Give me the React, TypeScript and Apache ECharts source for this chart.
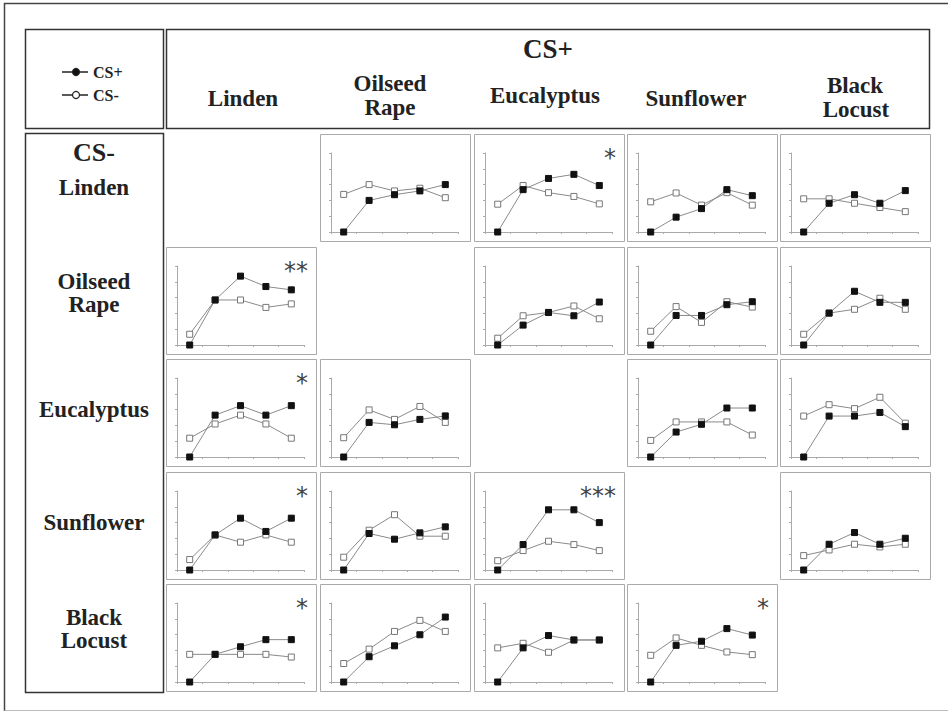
import React, { useEffect, useRef } from "react";
import * as echarts from "echarts";

// ---- Data ----
const trials = ["1", "2", "3", "4", "5"];
const csPlusOdours = ["Linden", "Oilseed Rape", "Eucalyptus", "Sunflower", "Black Locust"];
const csMinusOdours = ["Linden", "Oilseed Rape", "Eucalyptus", "Sunflower", "Black Locust"];

// each row = CS- odour; index within row = CS+ odour (column); null = diagonal
const lindenRowPlus = [null, [0, 2.0, 2.36, 2.6, 3.0], [0, 2.68, 3.39, 3.65, 2.94], [0, 0.94, 1.48, 2.68, 2.3], [0, 1.82, 2.36, 1.82, 2.62]];
const lindenRowMinus = [null, [2.38, 3.0, 2.6, 2.77, 2.17], [1.76, 2.94, 2.49, 2.25, 1.78], [1.91, 2.47, 1.7, 2.49, 1.7], [2.1, 2.1, 1.82, 1.55, 1.29]];
const oilseedRowPlus = [[0, 2.85, 4.36, 3.7, 3.49], null, [0, 1.26, 2.06, 1.85, 2.72], [0, 1.87, 1.87, 2.55, 2.74], [0, 2.02, 3.4, 2.7, 2.7]];
const oilseedRowMinus = [[0.68, 2.85, 2.85, 2.38, 2.6], null, [0.43, 1.85, 2.06, 2.47, 1.66], [0.87, 2.43, 1.43, 2.74, 2.4], [0.68, 2.02, 2.26, 2.96, 2.26]];
const eucalyptusRowPlus = [[0, 2.65, 3.25, 2.65, 3.25], [0, 2.19, 2.04, 2.38, 2.6], null, [0, 1.58, 2.07, 3.1, 3.1], [0, 2.59, 2.59, 2.82, 1.92]];
const eucalyptusRowMinus = [[1.19, 2.09, 2.65, 2.09, 1.19], [1.22, 2.98, 2.38, 3.2, 2.19], null, [1.05, 2.22, 2.22, 2.22, 1.39], [2.59, 3.31, 3.06, 3.78, 2.14]];
const sunflowerRowPlus = [[0, 2.22, 3.28, 2.44, 3.28], [0, 2.31, 1.95, 2.35, 2.73], [0, 1.61, 3.81, 3.81, 3.0], null, [0, 1.63, 2.37, 1.63, 2.01]];
const sunflowerRowMinus = [[0.66, 2.22, 1.76, 2.22, 1.76], [0.81, 2.52, 3.5, 2.14, 2.14], [0.59, 1.23, 1.82, 1.61, 1.23], null, [0.91, 1.27, 1.63, 1.46, 1.63]];
const blackLocustRowPlus = [[0, 1.75, 2.23, 2.68, 2.68], [0, 1.6, 2.29, 2.99, 4.11], [0, 2.16, 2.94, 2.66, 2.66], [0, 2.32, 2.58, 3.38, 2.97], null];
const blackLocustRowMinus = [[1.75, 1.75, 1.75, 1.75, 1.58], [1.17, 2.08, 3.2, 3.9, 3.2], [2.16, 2.45, 1.88, 2.66, 2.66], [1.69, 2.79, 2.32, 1.9, 1.73], null];

const lindenRowStars = ["", "", "*", "", ""];
const oilseedRowStars = ["**", "", "", "", ""];
const eucalyptusRowStars = ["*", "", "", "", ""];
const sunflowerRowStars = ["*", "", "***", "", ""];
const blackLocustRowStars = ["*", "", "", "*", ""];

const rowsPlus = [lindenRowPlus, oilseedRowPlus, eucalyptusRowPlus, sunflowerRowPlus, blackLocustRowPlus];
const rowsMinus = [lindenRowMinus, oilseedRowMinus, eucalyptusRowMinus, sunflowerRowMinus, blackLocustRowMinus];
const rowsStars = [lindenRowStars, oilseedRowStars, eucalyptusRowStars, sunflowerRowStars, blackLocustRowStars];

// ---- Layout ----
const colX = [166, 320, 474, 627, 780];
const rowY = [134, 247, 359, 472, 584];
const cellW = 150;
const cellH = 107;
const SERIF = "'Liberation Serif', 'Times New Roman', serif";

export default function App() {
  const ref = useRef<HTMLDivElement>(null);

  useEffect(() => {
    if (!ref.current) return;
    const chart = echarts.init(ref.current, undefined, { renderer: "svg" });

    const grids: any[] = [];
    const xAxes: any[] = [];
    const yAxes: any[] = [];
    const series: any[] = [];
    const graphics: any[] = [];

    // outer frame
    graphics.push({
      type: "polyline",
      shape: { points: [[4.5, 711], [4.5, 3.5], [948, 3.5]] },
      style: { stroke: "#444", lineWidth: 1.5, fill: "none" },
    });
    graphics.push({
      type: "line",
      shape: { x1: 4.5, y1: 710.5, x2: 948, y2: 710.5 },
      style: { stroke: "#bbb", lineWidth: 1 },
    });
    // header boxes
    const box = (x: number, y: number, w: number, h: number) => ({
      type: "rect",
      shape: { x: x + 0.5, y: y + 0.5, width: w, height: h },
      style: { fill: "none", stroke: "#333", lineWidth: 1.5 },
    });
    graphics.push(box(25, 29, 138, 99));
    graphics.push(box(166, 29, 763, 99));
    graphics.push(box(25, 133, 138, 559));

    // legend
    const legendItems = [
      { name: "CS+", y: 72, fill: "#111" },
      { name: "CS-", y: 95, fill: "#fff" },
    ];
    legendItems.forEach((it) => {
      graphics.push({ type: "line", shape: { x1: 62, y1: it.y, x2: 88, y2: it.y }, style: { stroke: "#222", lineWidth: 1.5 } });
      graphics.push({ type: "circle", shape: { cx: 76, cy: it.y, r: 3.5 }, style: { fill: it.fill, stroke: "#222", lineWidth: 1.2 } });
      graphics.push({
        type: "text",
        x: 93,
        y: it.y,
        style: { text: it.name, font: `bold 16px ${SERIF}`, fill: "#222", verticalAlign: "middle", align: "left" },
      });
    });

    const txt = (t: string, x: number, y: number, size: number) => ({
      type: "text",
      x,
      y,
      style: { text: t, font: `bold ${size}px ${SERIF}`, fill: "#222", align: "center", verticalAlign: "middle" },
    });
    // column header
    graphics.push(txt("CS+", 548, 49, 27));
    graphics.push(txt("Linden", 243, 98, 23));
    graphics.push(txt("Oilseed", 390, 83, 23));
    graphics.push(txt("Rape", 390, 107, 23));
    graphics.push(txt("Eucalyptus", 545, 95, 23));
    graphics.push(txt("Sunflower", 696, 98, 23));
    graphics.push(txt("Black", 855, 85, 23));
    graphics.push(txt("Locust", 856, 109, 23));
    // row header
    graphics.push(txt("CS-", 94, 152, 26));
    graphics.push(txt("Linden", 94, 187, 23));
    graphics.push(txt("Oilseed", 94, 281, 23));
    graphics.push(txt("Rape", 94, 304, 23));
    graphics.push(txt("Eucalyptus", 94, 409, 23));
    graphics.push(txt("Sunflower", 94, 522, 23));
    graphics.push(txt("Black", 94, 617, 23));
    graphics.push(txt("Locust", 94, 640, 23));

    let k = 0;
    for (let r = 0; r < 5; r++) {
      for (let c = 0; c < 5; c++) {
        const plus = rowsPlus[r][c];
        const minus = rowsMinus[r][c];
        if (!plus || !minus) continue;
        const x0 = colX[c];
        const y0 = rowY[r];
        graphics.push({
          type: "rect",
          shape: { x: x0 + 0.5, y: y0 + 0.5, width: cellW, height: cellH },
          style: { fill: "none", stroke: "#aaa", lineWidth: 1 },
        });
        const star = rowsStars[r][c];
        if (star) {
          graphics.push({
            type: "text",
            x: x0 + cellW - 8,
            y: y0 + 24,
            style: { text: star, font: `24px 'DejaVu Sans', sans-serif`, fill: "#444", align: "right", verticalAlign: "middle" },
          });
        }
        grids.push({ left: x0 + 11, top: y0 + 19, width: cellW - 23, height: 79, containLabel: false });
        xAxes.push({
          type: "category",
          gridIndex: k,
          data: trials,
          boundaryGap: true,
          axisLine: { show: true, lineStyle: { color: "#aaa", width: 1 } },
          axisTick: { show: true, length: 2, lineStyle: { color: "#aaa" } },
          axisLabel: { show: false },
          splitLine: { show: false },
        });
        yAxes.push({
          type: "value",
          gridIndex: k,
          min: 0,
          max: 5,
          interval: 1,
          axisLine: { show: true, lineStyle: { color: "#aaa", width: 1 } },
          axisTick: { show: true, length: 2, lineStyle: { color: "#aaa" } },
          axisLabel: { show: false },
          splitLine: { show: false },
        });
        series.push({
          type: "line",
          name: "CS-",
          xAxisIndex: k,
          yAxisIndex: k,
          data: minus,
          symbol: "rect",
          symbolSize: 6,
          showAllSymbol: true,
          lineStyle: { color: "#8a8a8a", width: 1 },
          itemStyle: { color: "#fff", borderColor: "#777", borderWidth: 1 },
          z: 2,
        });
        series.push({
          type: "line",
          name: "CS+",
          xAxisIndex: k,
          yAxisIndex: k,
          data: plus,
          symbol: "rect",
          symbolSize: 6,
          showAllSymbol: true,
          lineStyle: { color: "#8a8a8a", width: 1 },
          itemStyle: { color: "#111", borderColor: "#111", borderWidth: 1 },
          z: 3,
        });
        k++;
      }
    }

    chart.setOption({
      animation: false,
      backgroundColor: "#fff",
      grid: grids,
      xAxis: xAxes,
      yAxis: yAxes,
      series,
      graphic: graphics,
    });

    return () => chart.dispose();
  }, []);

  return <div ref={ref} style={{ position: "absolute", left: 0, top: 0, width: 948, height: 714 }} />;
}
